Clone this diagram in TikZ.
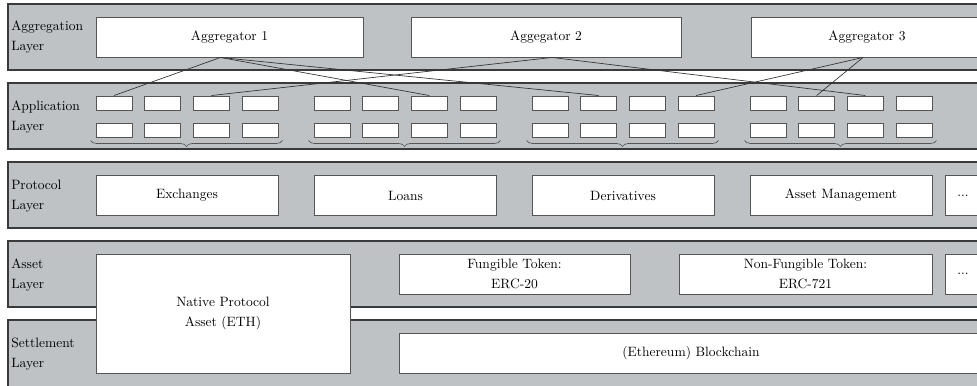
\documentclass[tikz,border=0pt]{standalone}
\usepackage{tikz}
\usetikzlibrary{decorations.pathreplacing}
\definecolor{layerfill}{HTML}{BEC2C5}
\definecolor{layerline}{HTML}{3A3A3A}
\definecolor{boxline}{HTML}{555555}
\newlength\pxu
\setlength\pxu{0.026cm}

\begin{document}
\begin{tikzpicture}[x=\pxu, y=-\pxu,
    every node/.style={font=\fontsize{10}{15}\selectfont},
    layer/.style={draw=layerline, fill=layerfill, line width=0.8pt},
    lbl/.style={anchor=west, align=left, inner sep=0pt},
    box/.style={draw=boxline, fill=white, line width=0.7pt, align=center, inner sep=0pt, minimum height=40\pxu},
    app/.style={draw=boxline, fill=white, line width=0.7pt, inner sep=0pt, minimum width=36\pxu, minimum height=14\pxu},
    link/.style={draw=black!80, line width=0.5pt},
    grp/.style={draw=boxline, line width=0.5pt, decorate, decoration={brace, mirror, amplitude=6\pxu}}]
    \clip (0,0) rectangle (977,385);

    % Layers
    \draw[layer] (8,4) rectangle (995,70);
    \draw[layer] (8,83) rectangle (995,149);
    \draw[layer] (8,162) rectangle (995,228);
    \draw[layer] (8,241) rectangle (995,307);
    \draw[layer] (8,320) rectangle (995,388);

    \node[lbl] (aggl) at (11,37) {Aggregation\\Layer};
    \node[lbl] (appl) at (11,117) {Application\\Layer};
    \node[lbl] (protl) at (11,196) {Protocol\\Layer};
    \node[lbl] (assetl) at (11,275) {Asset\\Layer};
    \node[lbl] (settl) at (11,354) {Settlement\\Layer};

    % Aggregators
    \node[box, minimum width=267\pxu] (agg1) at (229.5,37) {Aggregator 1};
    \node[box, minimum width=270\pxu] (agg2) at (546,37) {Aggegator 2};
    \node[box, minimum width=232\pxu] (agg3) at (867,37) {Aggregator 3};

    % Applications
    \foreach \gx [count=\g] in {96,314,532,750} {
      \foreach \b in {1,...,4} {
        \node[app] (t\g\b) at ({\gx+18+(\b-1)*48.67},103) {};
        \node[app] (u\g\b) at ({\gx+18+(\b-1)*48.67},130) {};
      }
      \draw[grp] ([xshift=-5\pxu,yshift=-3\pxu]u\g1.south west) -- ([xshift=4\pxu,yshift=-3\pxu]u\g4.south east);
    }

    % Protocols
    \node[box, minimum width=182\pxu] (exch) at (187,195.5) {Exchanges};
    \node[box, minimum width=182\pxu] (loans) at (405.5,195.5) {Loans};
    \node[box, minimum width=182\pxu] (deriv) at (623,195.5) {Derivatives};
    \node[box, minimum width=182\pxu] (mgmt) at (841,195.5) {Asset Management};
    \node[box, minimum width=36\pxu] (pmore) at (963,195.5) {...};

    % Assets and settlement
    \node[box, minimum width=254\pxu, minimum height=119\pxu] (native) at (223,313.5) {Native Protocol\\Asset (ETH)};
    \node[box, minimum width=231\pxu] (fung) at (514.5,274) {Fungible Token:\\ERC-20};
    \node[box, minimum width=253\pxu] (nft) at (805.5,274) {Non-Fungible Token:\\ERC-721};
    \node[box, minimum width=36\pxu] (amore) at (963,274) {...};
    \node[box, minimum width=584\pxu] (chain) at (691,353) {(Ethereum) Blockchain};

    % Links
    \draw[link] ([xshift=-9\pxu]agg1.south) -- (t11.north);
    \draw[link] ([xshift=-9\pxu]agg1.south) -- (t23.north);
    \draw[link] ([xshift=-9\pxu]agg1.south) -- (t32.north);
    \draw[link] ([xshift=6\pxu]agg2.south) -- (t13.north);
    \draw[link] ([xshift=6\pxu]agg2.south) -- (t43.north);
    \draw[link] ([xshift=-4\pxu]agg3.south) -- (t34.north);
    \draw[link] ([xshift=-4\pxu]agg3.south) -- (t42.north);
\end{tikzpicture}
\end{document}
